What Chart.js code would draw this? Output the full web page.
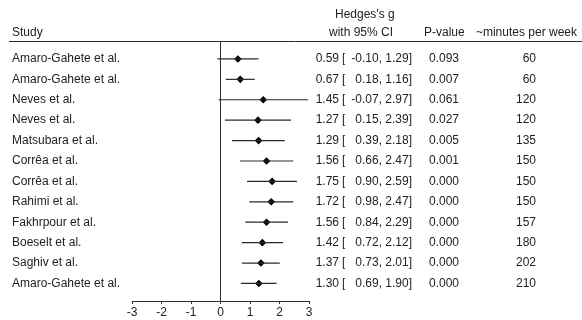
<!DOCTYPE html>
<html>
<head>
<meta charset="utf-8">
<script src="https://cdn.jsdelivr.net/npm/chart.js@4/dist/chart.umd.min.js"></script>
<style>
html,body{margin:0;padding:0;background:#fff;}
#wrap{width:582px;height:320px;position:relative;}
</style>
</head>
<body>
<div id="wrap"><canvas id="c"></canvas></div>
<script>
const studies = ["Amaro-Gahete et al.","Amaro-Gahete et al.","Neves et al.","Neves et al.","Matsubara et al.","Corrêa et al.","Corrêa et al.","Rahimi et al.","Fakhrpour et al.","Boeselt et al.","Saghiv et al.","Amaro-Gahete et al."];
const hedgesG = [0.59,0.67,1.45,1.27,1.29,1.56,1.75,1.72,1.56,1.42,1.37,1.30];
const ciLow  = [-0.10,0.18,-0.07,0.15,0.39,0.66,0.90,0.98,0.84,0.72,0.73,0.69];
const ciHigh = [1.29,1.16,2.97,2.39,2.18,2.47,2.59,2.47,2.29,2.12,2.01,1.90];
const pValues = ["0.093","0.007","0.061","0.027","0.005","0.001","0.000","0.000","0.000","0.000","0.000","0.000"];
const minutesPerWeek = [60,60,120,120,135,150,150,150,157,180,202,210];
const xTicks = [-3,-2,-1,0,1,2,3];

const FONT = "'Liberation Sans', Arial, sans-serif";
const TXT = '#222';
const LINE = '#2a2a2a';
Chart.defaults.font.family = FONT;
Chart.defaults.font.size = 12;
Chart.defaults.color = TXT;

const datasets = [];
studies.forEach((s, i) => {
  datasets.push({
    type: 'line',
    data: [{x: ciLow[i], y: i + 1}, {x: ciHigh[i], y: i + 1}],
    borderColor: LINE, borderWidth: 1.2, pointRadius: 0, clip: false
  });
});
datasets.push({
  type: 'scatter',
  data: hedgesG.map((g, i) => ({x: g, y: i + 1})),
  pointStyle: 'rectRot', pointRadius: 3.8,
  backgroundColor: '#000', borderColor: '#000', borderWidth: 0, clip: false
});

const textPlugin = {
  id: 'forestText',
  afterDraw(chart) {
    const ctx = chart.ctx;
    const ys = chart.scales.y;
    ctx.save();
    ctx.font = '12px ' + FONT;
    ctx.fillStyle = TXT;
    ctx.textBaseline = 'middle';
    ctx.textAlign = 'left';
    ctx.fillText('Study', 12, 33);
    ctx.fillText("Hedges's g", 335, 15);
    ctx.fillText('with 95% CI', 329, 33);
    ctx.fillText('P-value', 424, 33);
    ctx.textAlign = 'right';
    ctx.fillText('~minutes per week', 577, 33);
    ctx.strokeStyle = LINE;
    ctx.lineWidth = 1;
    ctx.beginPath();
    ctx.moveTo(9, chart.chartArea.top + 0.5);
    ctx.lineTo(582, chart.chartArea.top + 0.5);
    ctx.stroke();
    studies.forEach((s, i) => {
      const y = ys.getPixelForValue(i + 1);
      ctx.textAlign = 'left';
      ctx.fillText(s, 12, y);
      ctx.textAlign = 'right';
      ctx.fillText(hedgesG[i].toFixed(2), 339, y);
      ctx.textAlign = 'left';
      ctx.fillText('[', 342, y);
      ctx.textAlign = 'right';
      ctx.fillText(ciLow[i].toFixed(2) + ',', 382, y);
      ctx.fillText(ciHigh[i].toFixed(2) + ']', 412, y);
      ctx.textAlign = 'left';
      ctx.fillText(pValues[i], 429, y);
      ctx.textAlign = 'right';
      ctx.fillText(String(minutesPerWeek[i]), 536, y);
    });
    ctx.restore();
  }
};

new Chart(document.getElementById('c'), {
  data: { datasets },
  options: {
    responsive: true,
    maintainAspectRatio: false,
    animation: false,
    layout: { padding: { left: 132, right: 273, top: 41, bottom: -2 } },
    plugins: { legend: { display: false }, tooltip: { enabled: false } },
    scales: {
      x: {
        type: 'linear', min: -3, max: 3,
        afterBuildTicks: (scale) => { scale.ticks = xTicks.map(v => ({value: v})); },
        ticks: { padding: 3, font: { size: 12, lineHeight: 1 }, color: TXT },
        grid: {
          drawOnChartArea: true,
          color: (c) => (c.tick && c.tick.value === 0) ? LINE : 'rgba(0,0,0,0)',
          tickColor: LINE, tickLength: 3, lineWidth: 1
        },
        border: { display: true, color: LINE, width: 1 }
      },
      y: {
        type: 'linear', display: false, reverse: true, min: 0.121, max: 12.86
      }
    }
  },
  plugins: [textPlugin]
});
</script>
</body>
</html>
